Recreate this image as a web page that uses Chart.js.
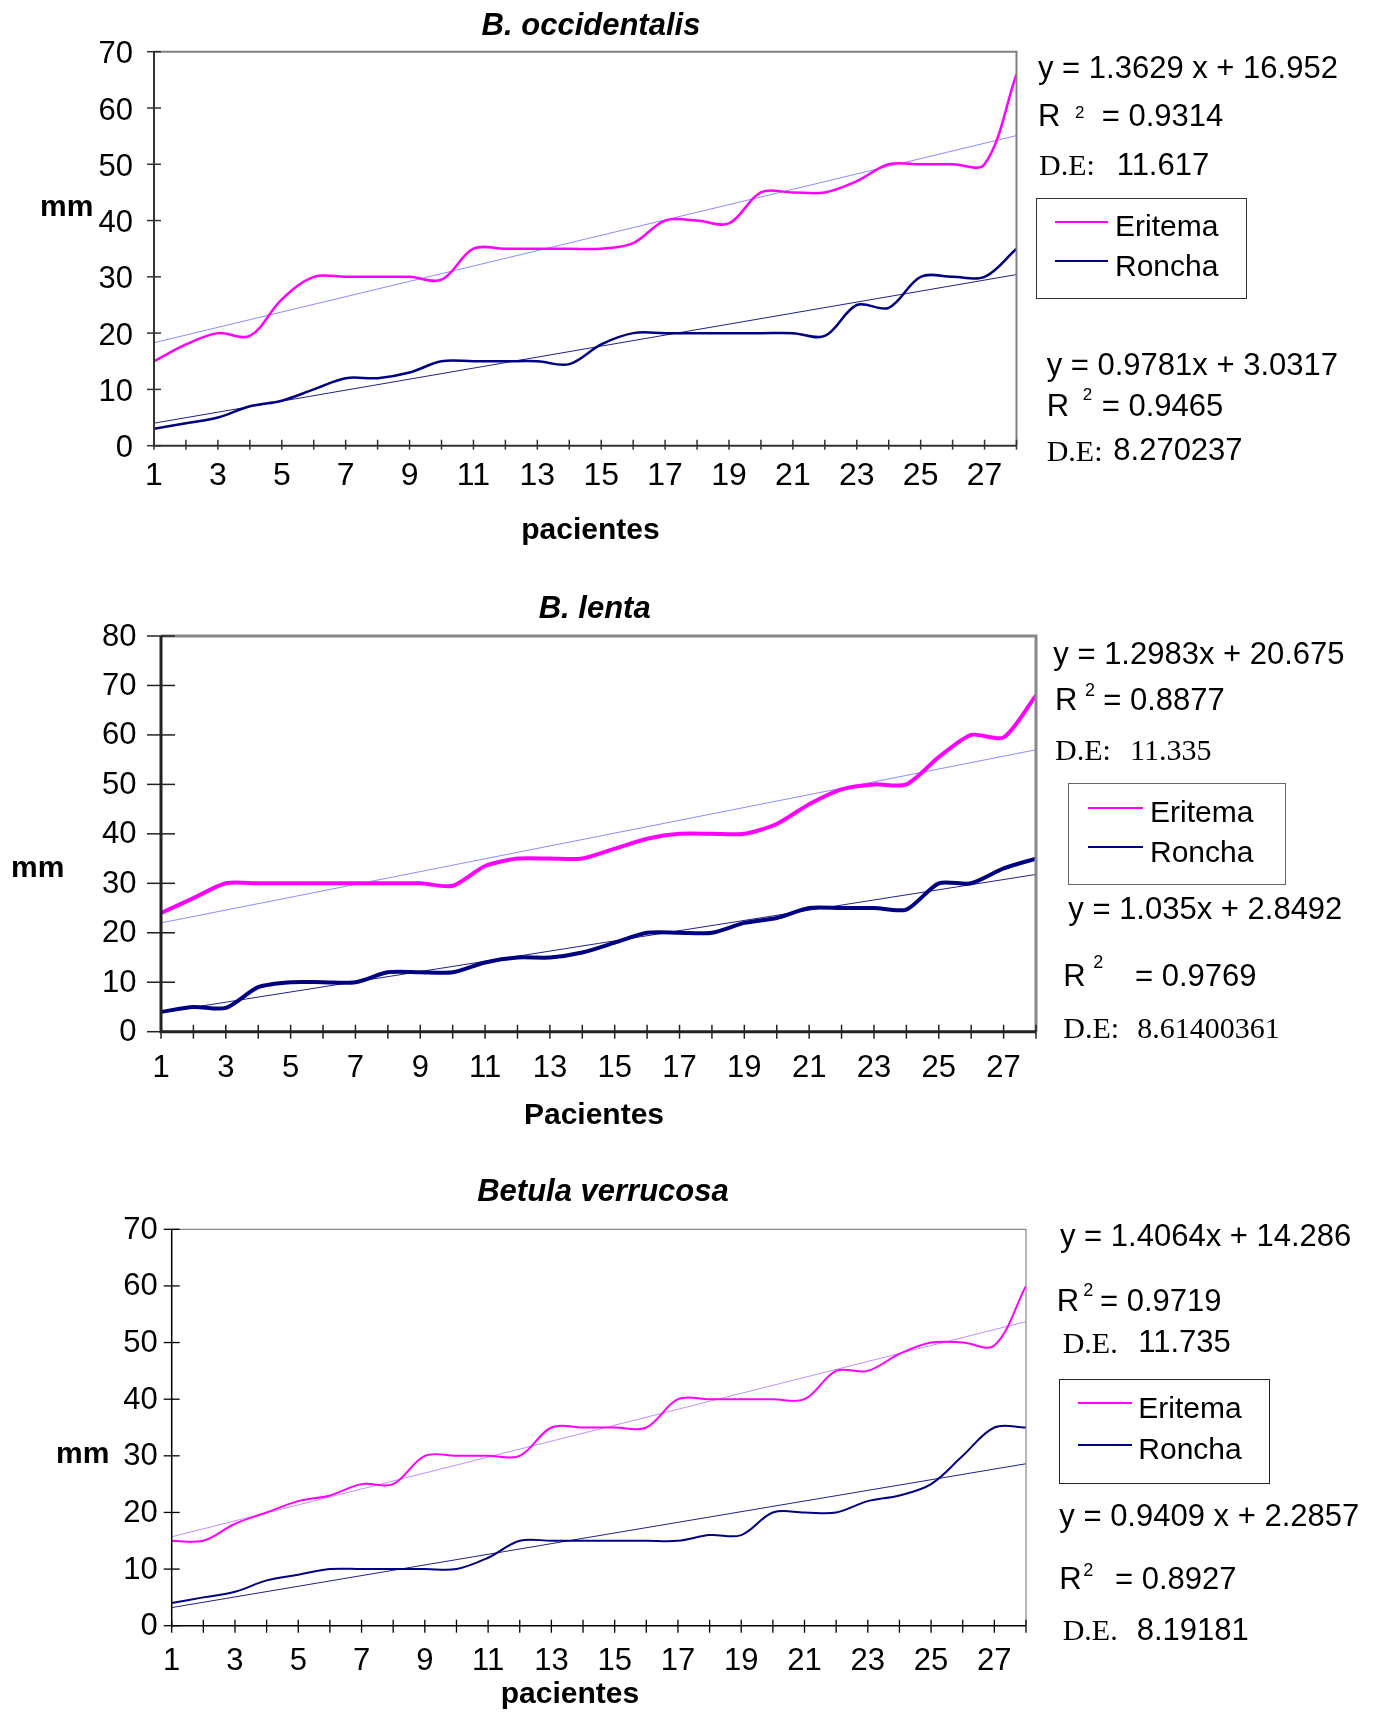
<!DOCTYPE html>
<html>
<head>
<meta charset="utf-8">
<script src="https://cdn.jsdelivr.net/npm/chart.js@4.4.1/dist/chart.umd.min.js"></script>
<style>
body{margin:0;background:#fff;}
#page{position:relative;width:1375px;height:1713px;overflow:hidden;font-family:"Liberation Sans",Arial,sans-serif;color:#000;}
canvas{position:absolute;left:0;}
.t{position:absolute;white-space:nowrap;line-height:1;}
.c{transform:translateX(-50%);}
.leg{position:absolute;box-sizing:border-box;}
.ln{position:absolute;height:0;}
</style>
</head>
<body>
<div id="page">
<canvas id="c1" width="1375" height="560" style="top:0"></canvas>
<canvas id="c2" width="1375" height="560" style="top:560px"></canvas>
<canvas id="c3" width="1375" height="593" style="top:1120px"></canvas>
</div>
<script>
/* datos */
const pacientes=[1,2,3,4,5,6,7,8,9,10,11,12,13,14,15,16,17,18,19,20,21,22,23,24,25,26,27,28];

// B. occidentalis
const occEritema=[15,18,20,19.5,26,30,30,30,30,29.5,35,35,35,35,35,36,40,40,39.5,45,45,45,47,50,50,50,50,66];
const occRoncha=[3,4,5,7,8,10,12,12,13,15,15,15,15,14.5,18,20,20,20,20,20,20,19.5,25,24.5,30,30,30,35];
const occTrendE=[18.3,55.1];
const occTrendR=[4.0,30.4];

// B. lenta
const lentaEritema=[24,27,30,30,30,30,30,30,30,29.5,33.5,35,35,35,37,39,40,40,40,42,46,49,50,50,55.5,60,59.5,68];
const lentaRoncha=[4,5,4.8,9,10,10,10,12,12,12,14,15,15,16,18,20,20,20,22,23,25,25,25,24.7,30,30,33,35];
const lentaTrendE=[22.0,57.0];
const lentaTrendR=[3.9,31.8];

// Betula verrucosa
const betEritema=[15,15,18,20,22,23,25,25,30,30,30,30,35,35,35,35,40,40,40,40,40,45,45,48,50,50,49.5,60];
const betRoncha=[4,5,6,8,9,10,10,10,10,10,12,15,15,15,15,15,15,16,16,20,20,20,22,23,25,30,35,35];
const betTrendE=[15.7,53.7];
const betTrendR=[3.2,28.6];

const FONT='"Liberation Sans", Arial, sans-serif';
const YW=100, XH=70;

/* marco gris + ejes negros + marcas cruzadas */
const frame={
id:'frame',
afterDraw(chart,args,o){
const {ctx,chartArea:a,scales:{x,y}}=chart;
ctx.save();
ctx.strokeStyle=o.frameColor; ctx.lineWidth=o.frameWidth;
ctx.beginPath(); ctx.moveTo(a.left,a.top); ctx.lineTo(a.right,a.top); ctx.lineTo(a.right,a.bottom); ctx.stroke();
ctx.strokeStyle=o.axisColor; ctx.lineWidth=o.axisWidth;
ctx.beginPath(); ctx.moveTo(a.left,a.top); ctx.lineTo(a.left,a.bottom); ctx.lineTo(a.right,a.bottom); ctx.stroke();
ctx.lineWidth=o.tickWidth;
y.ticks.forEach(t=>{
let py=y.getPixelForValue(t.value);
ctx.beginPath(); ctx.moveTo(a.left-o.yTick[0],py); ctx.lineTo(a.left+o.yTick[1],py); ctx.stroke();
});
x.ticks.forEach(t=>{
let px=x.getPixelForValue(t.value);
ctx.beginPath(); ctx.moveTo(px,a.bottom-o.xTick[0]); ctx.lineTo(px,a.bottom+o.xTick[1]); ctx.stroke();
});
ctx.restore();
}
};

function pts(arr){ return arr.map((v,i)=>({x:pacientes[i],y:v})); }
function trend(tr){ return [{x:pacientes[0],y:tr[0]},{x:pacientes[pacientes.length-1],y:tr[1]}]; }

function build(id,H,area,ymax,E,R,tE,tR,st){
new Chart(document.getElementById(id),{
type:'line',
data:{datasets:[
{label:'Eritema',data:pts(E),borderColor:'#FF00FF',borderWidth:st.lw,tension:st.tension,pointRadius:0,order:1},
{label:'Roncha',data:pts(R),borderColor:'#000080',borderWidth:st.lw,tension:st.tension,pointRadius:0,order:2},
{label:'Lineal (Eritema)',data:trend(tE),borderColor:st.trendE,borderWidth:1,pointRadius:0,order:3},
{label:'Lineal (Roncha)',data:trend(tR),borderColor:'#20208C',borderWidth:1,pointRadius:0,order:4}
]},
options:{
responsive:false,animation:false,
layout:{padding:{left:area.l-YW,top:area.t,right:1375-area.r,bottom:H-area.b-XH}},
plugins:{legend:{display:false},tooltip:{enabled:false},frame:st.frame},
scales:{
x:{type:'linear',min:1,max:28,
ticks:{stepSize:1,autoSkip:false,maxRotation:0,padding:st.xpad,color:'#000',font:{family:FONT,size:st.xfont},
callback:v=>(v%2===1?String(v):'')},
grid:{display:false,drawTicks:false},border:{display:false},
afterFit:s=>{s.height=XH;}},
y:{min:0,max:ymax,
ticks:{stepSize:10,padding:st.ypad,labelOffset:st.yoff,color:'#000',font:{family:FONT,size:31}},
grid:{display:false,drawTicks:false},border:{display:false},
afterFit:s=>{s.width=YW;}}
}
},
plugins:[frame]
});
}

build('c1',560,{l:154,t:51.7,r:1016.5,b:445.7},70,occEritema,occRoncha,occTrendE,occTrendR,
{lw:2.5,tension:0.35,trendE:'#8C8CFF',xpad:11.6,xfont:32,ypad:21,yoff:3,
frame:{frameColor:'#808080',frameWidth:2,axisColor:'#333',axisWidth:2,tickWidth:1.5,yTick:[7,7],xTick:[6,4]}});

build('c2',560,{l:161,t:76,r:1036,b:471.7},80,lentaEritema,lentaRoncha,lentaTrendE,lentaTrendR,
{lw:4,tension:0.25,trendE:'#8C8CFF',xpad:17.7,xfont:31,ypad:24.5,yoff:1,
frame:{frameColor:'#888',frameWidth:3,axisColor:'#222',axisWidth:3,tickWidth:1.5,yTick:[14,14],xTick:[7,7]}});

build('c3',593,{l:171.7,t:109.3,r:1026,b:505.7},70,betEritema,betRoncha,betTrendE,betTrendR,
{lw:2,tension:0.35,trendE:'#C090FF',xpad:17.5,xfont:31,ypad:14,yoff:1,
frame:{frameColor:'#888',frameWidth:1.2,axisColor:'#000',axisWidth:1.5,tickWidth:1.3,yTick:[8,8],xTick:[6,7]}});

/* textos */
const page=document.getElementById('page');
function txt(s,x,base,size,kind){
let d=document.createElement('div');
d.className='t';
d.textContent=s;
let serif=kind&&kind.indexOf('r')>=0;
if(serif) d.style.fontFamily='"Liberation Serif","Times New Roman",serif';
if(kind&&kind.indexOf('b')>=0) d.style.fontWeight='bold';
if(kind&&kind.indexOf('i')>=0) d.style.fontStyle='italic';
if(kind&&kind.indexOf('c')>=0) d.classList.add('c');
d.style.fontSize=size+'px';
d.style.left=x+'px';
d.style.top=(base-(serif?0.84:0.85)*size)+'px';
page.appendChild(d);
}
function legend(l,t,w,h,lx1,lx2,y1,y2,tx,b1,b2,bc){
let box=document.createElement('div');
box.className='leg';
box.style.cssText+='left:'+l+'px;top:'+t+'px;width:'+w+'px;height:'+h+'px;border:1.5px solid '+bc+';';
page.appendChild(box);
[[y1,'#FF00FF'],[y2,'#000080']].forEach(p=>{
let ln=document.createElement('div');
ln.className='ln';
ln.style.cssText+='left:'+lx1+'px;width:'+(lx2-lx1)+'px;top:'+(p[0]-1)+'px;border-top:2px solid '+p[1]+';';
page.appendChild(ln);
});
txt('Eritema',tx,b1,30);
txt('Roncha',tx,b2,30);
}

// grafico 1
txt('B. occidentalis',591,35,31,'bic');
txt('mm',40,216,30,'b');
txt('pacientes',590.5,539,30,'bc');
txt('y = 1.3629 x + 16.952',1038,78,31);
txt('R',1038,126,31); txt('2',1075,118,17); txt('= 0.9314',1101.7,126,31);
txt('D.E:',1039,175,30,'r'); txt('11.617',1116.7,175,31);
legend(1036,198,211,101,1055,1108,221.7,261,1115,236.7,276.7,'#333');
txt('y = 0.9781x + 3.0317',1046.7,375,31);
txt('R',1046.7,416.7,31); txt('2',1082.7,400,17); txt('= 0.9465',1101.7,416.7,31);
txt('D.E:',1046.7,460.7,30,'r'); txt('8.270237',1113.3,460.7,31);

// grafico 2
txt('B. lenta',594.7,618,31,'bic');
txt('mm',11,877,30,'b');
txt('Pacientes',594,1124,30,'bc');
txt('y = 1.2983x + 20.675',1053.3,664,31);
txt('R',1055,710,31); txt('2',1085,696,18); txt('= 0.8877',1103.3,710,31);
txt('D.E:',1055,760,30,'r'); txt('11.335',1130,760,30,'r');
legend(1068.3,783.3,218,102,1088,1143,807.7,847.3,1150,822.7,862.7,'#666');
txt('y = 1.035x + 2.8492',1068.3,919.3,31);
txt('R',1063.3,986.7,31); txt('2',1093.3,968,18); txt('= 0.9769',1135,986.7,31);
txt('D.E:',1063.3,1038.3,30,'r'); txt('8.61400361',1137.3,1038.3,30,'r');

// grafico 3
txt('Betula verrucosa',603,1201,31,'bic');
txt('mm',56,1463,30,'b');
txt('pacientes',570,1703,30,'bc');
txt('y = 1.4064x + 14.286',1060,1246.7,31);
txt('R',1056.7,1311.7,31); txt('2',1083.3,1296.5,18); txt('= 0.9719',1100,1311.7,31);
txt('D.E.',1062.7,1352.7,30,'r'); txt('11.735',1138.3,1352.7,31);
legend(1059.3,1379,211,105,1078,1131.7,1403.3,1445,1138.3,1418.3,1459.3,'#222');
txt('y = 0.9409 x + 2.2857',1059.3,1526.7,31);
txt('R',1059.3,1589.3,31); txt('2',1083.3,1576.5,18); txt('= 0.8927',1115,1589.3,31);
txt('D.E.',1062.7,1640,30,'r'); txt('8.19181',1136.7,1640,31);
</script>
</body>
</html>
